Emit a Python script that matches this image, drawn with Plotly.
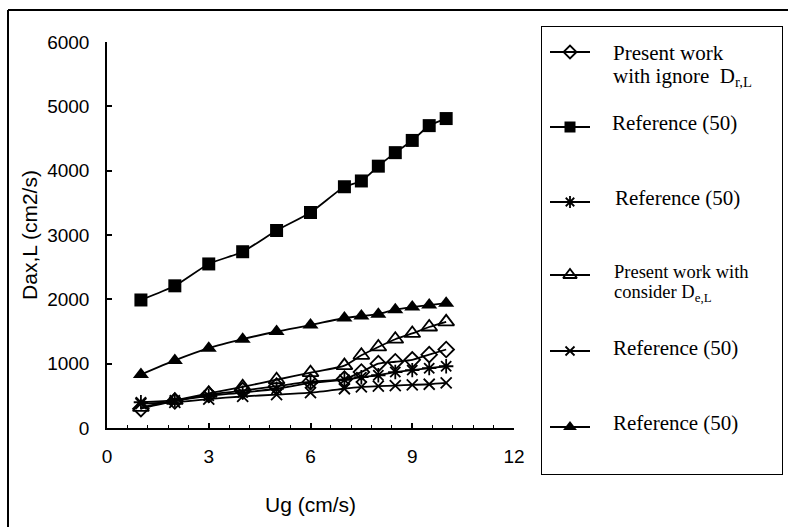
import plotly.graph_objects as go

# ---- data ----
ug = [1, 2, 3, 4, 5, 6, 7, 7.5, 8, 8.5, 9, 9.5, 10]
present_ignore = [300, 420, 520, 580, 650, 720, 760, 870, 1000, 1030, 1060, 1140, 1220]
ref_square = [1990, 2210, 2550, 2740, 3070, 3350, 3750, 3840, 4070, 4280, 4470, 4700, 4810]
ref_asterisk = [400, 430, 500, 550, 610, 700, 750, 790, 820, 870, 900, 930, 960]
present_consider = [320, 430, 540, 640, 750, 860, 970, 1130, 1260, 1380, 1470, 1570, 1650]
ref_x = [380, 400, 450, 490, 520, 550, 610, 640, 650, 660, 670, 680, 700]
ref_triangle = [830, 1050, 1240, 1380, 1500, 1600, 1710, 1740, 1770, 1840, 1880, 1910, 1940]

x_ticks = [0, 3, 6, 9, 12]
y_ticks = [0, 1000, 2000, 3000, 4000, 5000, 6000]

legend_labels = [
    ["Present work", "with ignore  D<sub>r,L</sub>"],
    ["Reference (50)"],
    ["Reference (50)"],
    ["Present work with", "consider D<sub>e,L</sub>"],
    ["Reference (50)"],
    ["Reference (50)"],
]

# ---- geometry (pixels) ----
W, H = 788, 527
ML, MT = 8, 10
PW, PH = W - ML, H - MT


def px_x(p):
    return (p - ML) / PW


def px_y(p):
    return (H - p) / PH


series = [
    (present_ignore, dict(symbol="diamond-open", size=12, color="black", line=dict(width=1.8, color="black"))),
    (ref_square, dict(symbol="square", size=13, color="black")),
    (ref_asterisk, dict(symbol="asterisk-open", size=12, color="black", line=dict(width=1.8, color="black"))),
    (present_consider, dict(symbol="triangle-up-open", size=14, color="black", line=dict(width=1.8, color="black"))),
    (ref_x, dict(symbol="x-thin-open", size=11, color="black", line=dict(width=1.8, color="black"))),
    (ref_triangle, dict(symbol="triangle-up", size=14, color="black")),
]

fig = go.Figure()
for vals, mk in series:
    fig.add_trace(go.Scatter(
        x=ug, y=vals, mode="lines+markers",
        line=dict(color="black", width=1.8, shape="spline", smoothing=0.6),
        marker=mk, showlegend=False, xaxis="x", yaxis="y",
    ))

# ---- custom legend drawn on a hidden axis pair in pixel units ----
leg_marker_y = [52, 127, 202, 275, 351, 427]
leg_text = [[53, 77], [123], [198], [272, 293], [348], [423]]
leg_text_x = [611, 610, 613, 612, 611, 611]
leg_font = [21, 21, 21, 18.5, 21, 21]

for (vals, mk), my in zip(series, leg_marker_y):
    fig.add_trace(go.Scatter(
        x=[550, 590], y=[my, my], mode="lines",
        line=dict(color="black", width=1.8), showlegend=False,
        xaxis="x2", yaxis="y2", hoverinfo="skip",
    ))
    mk2 = dict(mk)
    mk2["size"] = mk["size"] - 2
    fig.add_trace(go.Scatter(
        x=[570], y=[my], mode="markers", marker=mk2, showlegend=False,
        xaxis="x2", yaxis="y2", hoverinfo="skip",
    ))

annotations = []
for lines, ys, tx, fs in zip(legend_labels, leg_text, leg_text_x, leg_font):
    for t, ty in zip(lines, ys):
        annotations.append(dict(
            x=tx, y=ty, xref="x2", yref="y2", text=t, showarrow=False,
            xanchor="left", yanchor="middle",
            font=dict(family="Liberation Serif", size=fs, color="black"),
        ))

shapes = [
    # outer frame (left and top edges)
    dict(type="line", xref="paper", yref="paper", x0=0, x1=0, y0=-0.05, y1=1,
         line=dict(color="black", width=2)),
    dict(type="line", xref="paper", yref="paper", x0=0, x1=1.05, y0=1, y1=1,
         line=dict(color="black", width=2)),
    # legend box
    dict(type="rect", xref="x2", yref="y2", x0=541, x1=783, y0=26, y1=475,
         line=dict(color="black", width=2), fillcolor="rgba(0,0,0,0)"),
]

fig.update_layout(
    width=W, height=H,
    margin=dict(l=ML, r=0, t=MT, b=0, autoexpand=False),
    paper_bgcolor="white", plot_bgcolor="white",
    font=dict(family="Liberation Sans", color="black"),
    xaxis=dict(
        domain=[px_x(107), px_x(514)], range=[0, 12],
        tickvals=x_ticks, ticktext=[str(v) for v in x_ticks],
        ticks="inside", ticklen=5, tickwidth=1.5, tickcolor="black",
        minor=dict(dtick=0.6, tick0=0, ticks="inside", ticklen=3, tickwidth=1.2, tickcolor="black"),
        showline=True, linecolor="black", linewidth=1.5,
        showgrid=False, zeroline=False,
        tickfont=dict(size=19), ticklabelstandoff=10,
        title=dict(text="Ug (cm/s)", font=dict(size=21), standoff=32),
        anchor="y",
    ),
    yaxis=dict(
        domain=[px_y(428), px_y(42)], range=[0, 6000],
        tickvals=y_ticks, ticktext=[str(v) for v in y_ticks],
        ticks="inside", ticklen=5, tickwidth=1.5, tickcolor="black",
        showline=True, linecolor="black", linewidth=1.5,
        showgrid=False, zeroline=False,
        tickfont=dict(size=19), ticklabelstandoff=12,
        title=dict(text="Dax,L (cm2/s)", font=dict(size=21), standoff=4),
        anchor="x",
    ),
    xaxis2=dict(domain=[px_x(541), px_x(783)], range=[541, 783], visible=False,
                fixedrange=True, anchor="y2"),
    yaxis2=dict(domain=[px_y(475), px_y(26)], range=[475, 26], visible=False,
                fixedrange=True, anchor="x2"),
    annotations=annotations,
    shapes=shapes,
)

fig.write_html(
    "out.html",
    config={"displayModeBar": False},
    post_script="document.body.style.margin='0px';document.body.style.overflow='hidden';",
)
